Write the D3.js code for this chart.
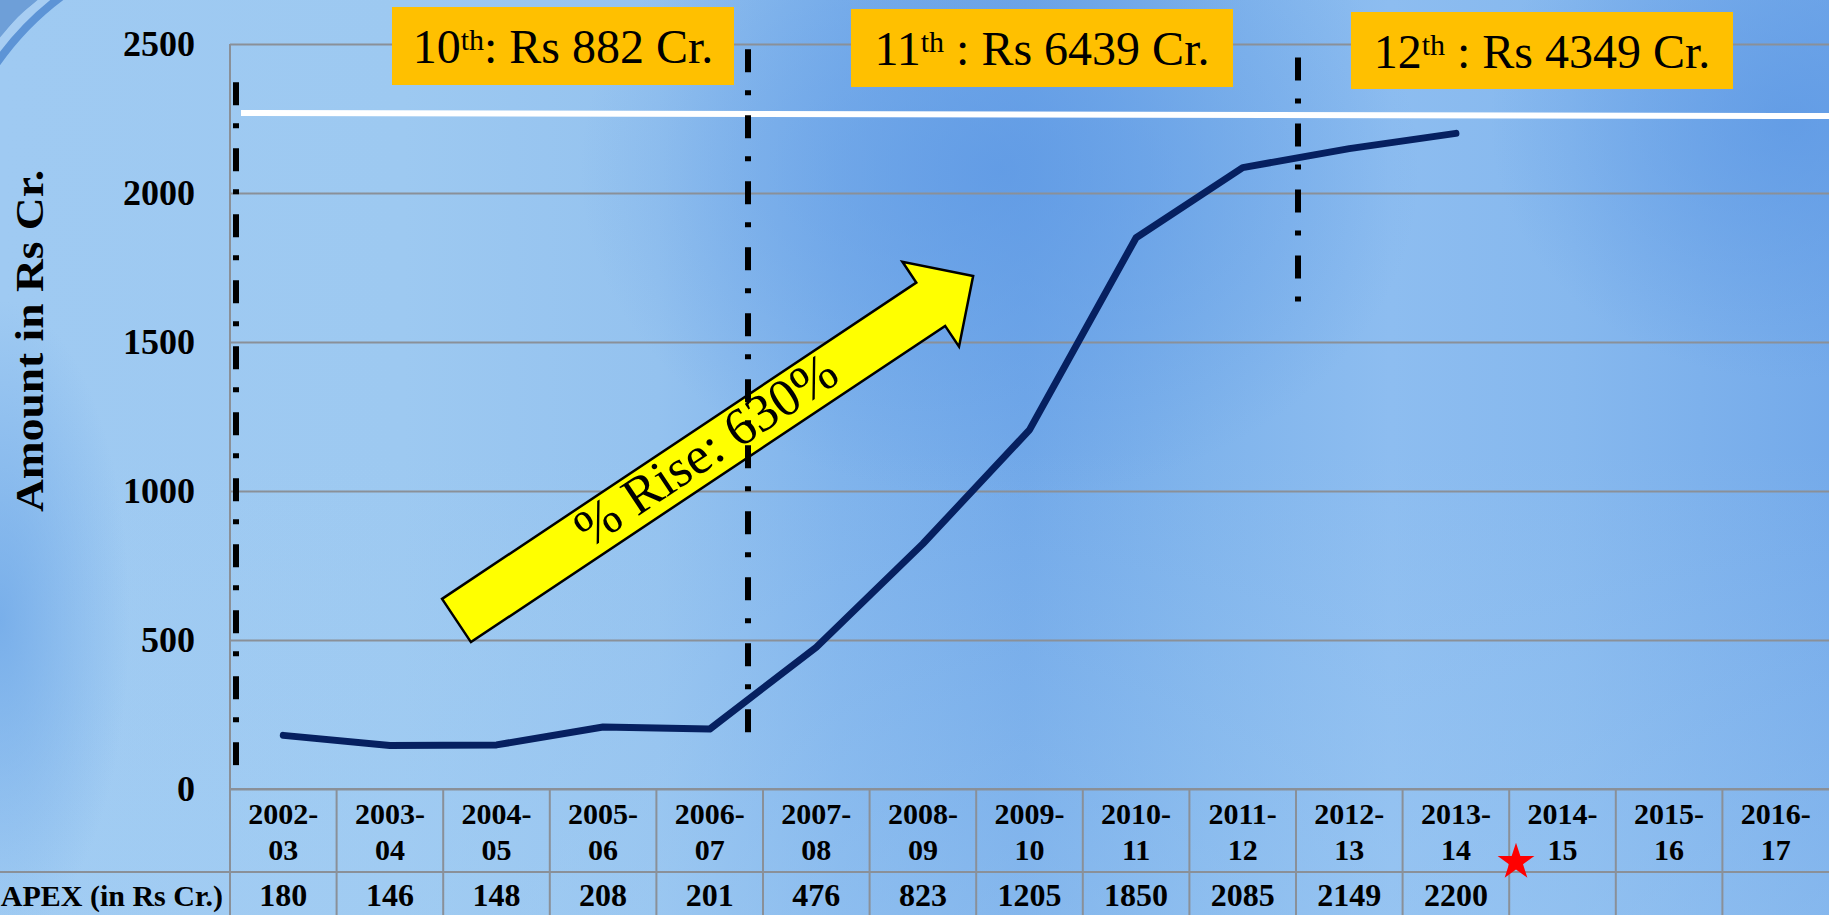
<!DOCTYPE html>
<html>
<head>
<meta charset="utf-8">
<script src="https://cdn.jsdelivr.net/npm/d3@7"></script>
<style>
  html, body { margin: 0; padding: 0; overflow: hidden; background: #9cc8f0; }
  svg { display: block; }
</style>
</head>
<body>
<svg id="chart" width="1829" height="915"></svg>
<script>
// Financial years shown along the x axis and in the data table
const categories = ["2002-03","2003-04","2004-05","2005-06","2006-07","2007-08","2008-09",
                    "2009-10","2010-11","2011-12","2012-13","2013-14","2014-15","2015-16","2016-17"];
// CAPEX per year, in Rs crore
const capex = [180, 146, 148, 208, 201, 476, 823, 1205, 1850, 2085, 2149, 2200];
// Value axis ticks
const yTicks = [0, 500, 1000, 1500, 2000, 2500];
// Five-year plan totals
const planOrdinals = ["10", "11", "12"];
const planAmounts = [": Rs 882 Cr.", " : Rs 6439 Cr.", " : Rs 4349 Cr."];
const riseLabel = "% Rise: 630%";
const yTitle = "Amount in Rs Cr.";
const rowTitle = "CAPEX (in Rs Cr.)";

const W = 1829, H = 915;
const svg = d3.select("#chart");
const defs = svg.append("defs");

// ---------- background ----------
const bg = defs.append("linearGradient").attr("id", "bgH").attr("x1", 0).attr("x2", 1).attr("y1", 0).attr("y2", 0);
[[0, "#9fcaf2"], [0.22, "#9dc9f1"], [0.36, "#94c2ef"], [0.46, "#7fb3ec"], [0.56, "#72a9e9"],
 [0.66, "#80b4ec"], [0.76, "#8dbdf0"], [0.86, "#86b8ee"], [1, "#74aaea"]]
  .forEach(([o, c]) => bg.append("stop").attr("offset", o).attr("stop-color", c));
svg.append("rect").attr("width", W).attr("height", H).attr("fill", "url(#bgH)");

const glowTop = defs.append("radialGradient").attr("id", "glowTop")
  .attr("cx", 0.5).attr("cy", 0.5).attr("r", 0.5);
glowTop.append("stop").attr("offset", 0).attr("stop-color", "#5d98e4").attr("stop-opacity", 0.75);
glowTop.append("stop").attr("offset", 1).attr("stop-color", "#5d98e4").attr("stop-opacity", 0);
svg.append("ellipse").attr("cx", 1000).attr("cy", 170).attr("rx", 420).attr("ry", 330).attr("fill", "url(#glowTop)");
svg.append("ellipse").attr("cx", 1790).attr("cy", 120).attr("rx", 300).attr("ry", 260).attr("fill", "url(#glowTop)");

const lightBottom = defs.append("linearGradient").attr("id", "lightBottom").attr("x1", 0).attr("x2", 0).attr("y1", 0).attr("y2", 1);
lightBottom.append("stop").attr("offset", 0).attr("stop-color", "#a6d0f4").attr("stop-opacity", 0);
lightBottom.append("stop").attr("offset", 1).attr("stop-color", "#a6d0f4").attr("stop-opacity", 0.35);
svg.append("rect").attr("x", 0).attr("y", 450).attr("width", W).attr("height", H - 450).attr("fill", "url(#lightBottom)");

// soft darker patch along the left edge
const leftShade = defs.append("radialGradient").attr("id", "leftShade").attr("cx", 0.5).attr("cy", 0.5).attr("r", 0.5);
leftShade.append("stop").attr("offset", 0).attr("stop-color", "#6fa8e8").attr("stop-opacity", 0.8);
leftShade.append("stop").attr("offset", 1).attr("stop-color", "#6fa8e8").attr("stop-opacity", 0);
svg.append("ellipse").attr("cx", 0).attr("cy", 620).attr("rx", 130).attr("ry", 320).attr("fill", "url(#leftShade)");

// corner swoosh
svg.append("path").attr("d", "M 0 0 L 40 0 Q 16 14 0 40 Z").attr("fill", "#6e9fd8");
svg.append("path").attr("d", "M -4 50 Q 18 20 50 -4").attr("fill", "none")
  .attr("stroke", "#a7cdf2").attr("stroke-width", 9);
svg.append("path").attr("d", "M -4 64 Q 24 24 62 -4").attr("fill", "none")
  .attr("stroke", "#5d94d6").attr("stroke-width", 8);

// ---------- scales ----------
const plotLeft = 230, plotRight = W, plotTop = 44, plotBottom = 789;
const x = d3.scaleBand().domain(categories).range([plotLeft, plotRight]).padding(0);
const y = d3.scaleLinear().domain([0, 2500]).range([plotBottom, plotTop]);
const cx = c => x(c) + x.bandwidth() / 2;

const serif = "'Liberation Serif', 'Times New Roman', serif";
const gridColor = "#8a9098";

// ---------- value axis with gridlines ----------
const yAxis = d3.axisLeft(y).tickValues(yTicks).tickSize(-(plotRight - plotLeft)).tickPadding(35).tickFormat(d3.format("d"));
const gy = svg.append("g").attr("transform", `translate(${plotLeft},0)`).call(yAxis);
gy.select(".domain").remove();
gy.selectAll(".tick line").attr("stroke", gridColor).attr("stroke-width", 2);
gy.selectAll(".tick text")
  .attr("font-family", serif).attr("font-weight", "bold").attr("font-size", 36)
  .attr("fill", "#000").attr("x", -35).attr("dy", "0.32em");

// axis title
svg.append("text")
  .attr("transform", "translate(29,341) rotate(-90)")
  .attr("text-anchor", "middle").attr("dominant-baseline", "central")
  .attr("font-family", serif).attr("font-weight", "bold").attr("font-size", 41)
  .attr("textLength", 342).attr("lengthAdjust", "spacingAndGlyphs")
  .text(yTitle);

// ---------- data table under the plot ----------
const rowSplit = 872;
const table = svg.append("g");
table.append("line").attr("x1", plotLeft).attr("x2", W).attr("y1", plotBottom).attr("y2", plotBottom)
  .attr("stroke", gridColor).attr("stroke-width", 2);
table.append("line").attr("x1", 0).attr("x2", W).attr("y1", rowSplit).attr("y2", rowSplit)
  .attr("stroke", gridColor).attr("stroke-width", 2);
table.append("line").attr("x1", plotLeft).attr("x2", plotLeft).attr("y1", plotTop).attr("y2", H)
  .attr("stroke", gridColor).attr("stroke-width", 2);
table.selectAll(".colsep").data(categories.slice(1)).enter().append("line")
  .attr("x1", d => x(d)).attr("x2", d => x(d)).attr("y1", plotBottom).attr("y2", H)
  .attr("stroke", gridColor).attr("stroke-width", 2);

const catText = table.selectAll(".cat").data(categories).enter().append("text")
  .attr("text-anchor", "middle").attr("font-family", serif).attr("font-weight", "bold")
  .attr("font-size", 30).attr("fill", "#000");
catText.append("tspan").attr("x", d => cx(d)).attr("y", 824).text(d => d.split("-")[0] + "-");
catText.append("tspan").attr("x", d => cx(d)).attr("y", 860).text(d => d.split("-")[1]);

table.selectAll(".val").data(capex).enter().append("text")
  .attr("x", (d, i) => cx(categories[i])).attr("y", 906)
  .attr("text-anchor", "middle").attr("font-family", serif).attr("font-weight", "bold")
  .attr("font-size", 32).attr("fill", "#000").text(d => d);

table.append("text").attr("x", 223).attr("y", 906).attr("text-anchor", "end")
  .attr("font-family", serif).attr("font-weight", "bold").attr("font-size", 30)
  .attr("fill", "#000").text(rowTitle);

// white reference line
svg.append("line").attr("x1", 241).attr("x2", W).attr("y1", 113).attr("y2", 116)
  .attr("stroke", "#ffffff").attr("stroke-width", 6);

// ---------- rise arrow ----------
const arrowLen = 621, shaftHalf = 26, headHalf = 51, headBase = 570;
const arrowPts = [[0, -shaftHalf], [headBase, -shaftHalf], [headBase, -headHalf], [arrowLen, 0],
                  [headBase, headHalf], [headBase, shaftHalf], [0, shaftHalf]];
const arrow = svg.append("g").attr("transform", "translate(456.5,620.5) rotate(-33.7)");
arrow.append("path").attr("d", d3.line()(arrowPts) + "Z")
  .attr("fill", "#ffff00").attr("stroke", "#000").attr("stroke-width", 2.5).attr("stroke-linejoin", "miter");
arrow.append("text").attr("x", 302).attr("y", -4)
  .attr("text-anchor", "middle").attr("dominant-baseline", "central")
  .attr("font-family", serif).attr("font-size", 53).attr("fill", "#000").text(riseLabel);

// ---------- CAPEX line ----------
svg.append("path").datum(capex)
  .attr("d", d3.line().x((d, i) => cx(categories[i])).y(d => y(d)))
  .attr("fill", "none").attr("stroke", "#062060").attr("stroke-width", 7)
  .attr("stroke-linejoin", "round").attr("stroke-linecap", "round");

// ---------- plan period separators ----------
const separators = [
  { x: x("2002-03") + 6,  top: y(2372), bottom: y(77) },
  { x: x("2007-08") - 15, top: y(2482), bottom: y(182) },
  { x: x("2012-13") + 2,  top: y(2455), bottom: y(1626) }
];
svg.selectAll(".sep").data(separators).enter().append("line")
  .attr("x1", d => d.x).attr("x2", d => d.x).attr("y1", d => d.top).attr("y2", d => d.bottom)
  .attr("stroke", "#000").attr("stroke-width", 6).attr("stroke-dasharray", "23,18,5,20");

// ---------- plan total boxes ----------
const boxes = [
  { x0: 392, x1: 734, y0: 7, y1: 85 },
  { x0: 851, x1: 1233, y0: 9, y1: 87 },
  { x0: 1351, x1: 1733, y0: 12, y1: 89 }
];
boxes.forEach((b, i) => {
  svg.append("rect").attr("x", b.x0).attr("y", b.y0).attr("width", b.x1 - b.x0).attr("height", b.y1 - b.y0)
    .attr("fill", "#ffc000");
  const t = svg.append("text").attr("x", (b.x0 + b.x1) / 2).attr("y", (b.y0 + b.y1) / 2 + 17)
    .attr("text-anchor", "middle").attr("font-family", serif).attr("font-size", 48).attr("fill", "#000");
  t.append("tspan").text(planOrdinals[i]);
  t.append("tspan").attr("font-size", 30).attr("dy", -13).text("th");
  t.append("tspan").attr("dy", 13).text(planAmounts[i]);
});

// ---------- marker star ----------
svg.append("path").attr("d", d3.symbol(d3.symbolStar).size(420)())
  .attr("transform", "translate(1516,862)").attr("fill", "#ff0000");
</script>
</body>
</html>
